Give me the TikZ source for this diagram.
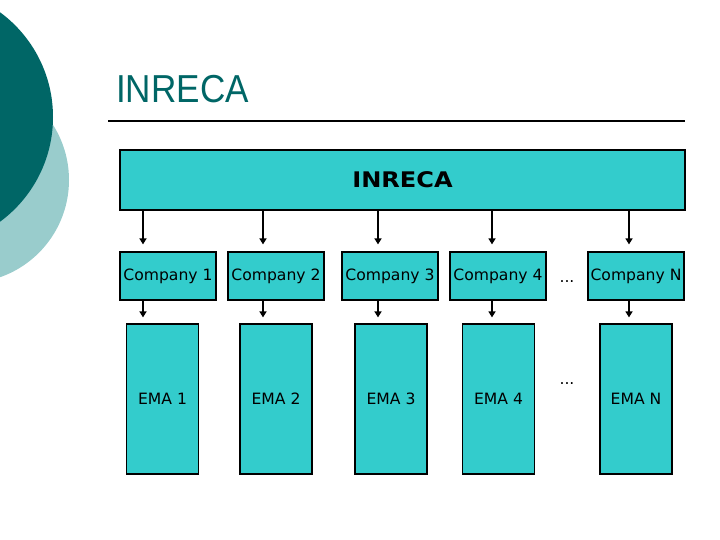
\documentclass[tikz,border=0pt]{standalone}
\usepackage{fontspec}
\setmainfont{DejaVu Sans}
\newfontfamily\titlefont[FakeStretch=0.9]{Liberation Sans}
\newfontfamily\headfont[FakeStretch=1.12]{DejaVu Sans}
\usetikzlibrary{arrows.meta}
\definecolor{darkteal}{RGB}{0,102,102}
\definecolor{paleteal}{RGB}{153,204,204}
\definecolor{boxteal}{RGB}{51,204,204}
\tikzset{
  unitbox/.style={draw=black, line width=1.2pt, fill=boxteal, inner sep=0pt,
    font=\fontsize{15.6}{18}\selectfont},
  company/.style={unitbox, minimum width=96pt, minimum height=48pt},
  ema/.style={unitbox, minimum width=72pt, minimum height=150pt},
  feed/.style={->, line width=2.2pt},
  dots/.style={anchor=base, inner sep=0pt, font=\fontsize{15.6}{18}\selectfont},
}

\begin{document}
\begin{tikzpicture}[x=1pt,y=-1pt,>={Triangle[length=6pt,width=7pt]}]
\useasboundingbox (0,0) rectangle (720,540);
\clip (0,0) rectangle (720,540);
% Background discs
\fill[paleteal] (-34,180) circle (103pt);
\fill[darkteal] (-77,117) circle (130pt);
% Title
\node[anchor=base west, inner sep=0pt, text=darkteal,
  font=\titlefont\fontsize{39}{44}\selectfont] (title) at (116,103) {INRECA};
\draw[line width=2pt] (108,121) -- (685,121);
% Main box
\node[unitbox, minimum width=565pt, minimum height=60pt,
  font=\headfont\bfseries\fontsize{21.5}{24}\selectfont] (inreca) at (402.5,180) {INRECA};
% Companies
\node[company] (c1) at (168,276) {Company 1};
\node[company] (c2) at (276,276) {Company 2};
\node[company] (c3) at (390,276) {Company 3};
\node[company] (c4) at (498,276) {Company 4};
\node[company] (cn) at (636,276) {Company N};
\node[dots] (cdots) at (567,282) {...};
% EMAs
\node[ema] (e1) at (162.5,399) {EMA 1};
\node[ema] (e2) at (276,399) {EMA 2};
\node[ema] (e3) at (391,399) {EMA 3};
\node[ema] (e4) at (498.5,399) {EMA 4};
\node[ema] (en) at (636,399) {EMA N};
\node[dots] (edots) at (567,384) {...};
% Arrows
\coordinate (x1) at (143,0);
\coordinate (x2) at (263,0);
\coordinate (x3) at (378,0);
\coordinate (x4) at (492,0);
\coordinate (xn) at (629,0);
\draw[feed, shorten >=7pt] (inreca.south -| x1) -- (c1.north -| x1);
\draw[feed, shorten >=7pt] (inreca.south -| x2) -- (c2.north -| x2);
\draw[feed, shorten >=7pt] (inreca.south -| x3) -- (c3.north -| x3);
\draw[feed, shorten >=7pt] (inreca.south -| x4) -- (c4.north -| x4);
\draw[feed, shorten >=7pt] (inreca.south -| xn) -- (cn.north -| xn);
\draw[feed, shorten >=6pt] (c1.south -| x1) -- (e1.north -| x1);
\draw[feed, shorten >=6pt] (c2.south -| x2) -- (e2.north -| x2);
\draw[feed, shorten >=6pt] (c3.south -| x3) -- (e3.north -| x3);
\draw[feed, shorten >=6pt] (c4.south -| x4) -- (e4.north -| x4);
\draw[feed, shorten >=6pt] (cn.south -| xn) -- (en.north -| xn);
\end{tikzpicture}
\end{document}
